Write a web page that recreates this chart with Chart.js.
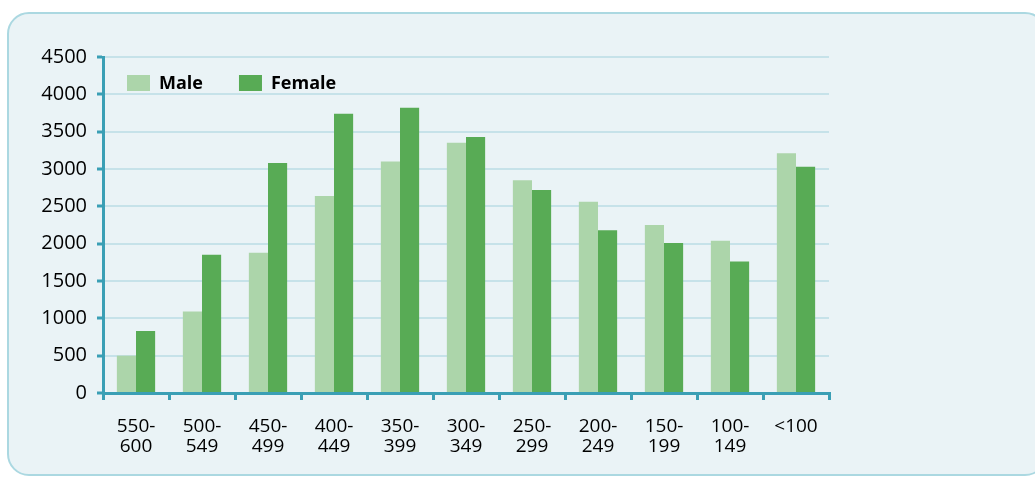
<!DOCTYPE html>
<html>
<head>
<meta charset="utf-8">
<script src="https://cdn.jsdelivr.net/npm/chart.js@4"></script>
<style>
  html, body { margin: 0; padding: 0; background: #ffffff; width: 1035px; height: 477px; overflow: hidden; }
  #card { position: absolute; left: 7px; top: 12px; width: 1040px; height: 464px; background: #eaf3f6; border: 2px solid #abd8e1; border-radius: 22px; box-sizing: border-box; }
  #wrap { position: absolute; left: 0; top: 0; width: 1035px; height: 477px; }
</style>
</head>
<body>
<div id="card"></div>
<div id="wrap"><canvas id="c" width="1035" height="477"></canvas></div>
<script>
const categories = [["550-","600"],["500-","549"],["450-","499"],["400-","449"],["350-","399"],["300-","349"],["250-","299"],["200-","249"],["150-","199"],["100-","149"],["<100"]];
const seriesNames = ["Male", "Female"];
const maleValues = [500, 1090, 1880, 2640, 3100, 3350, 2850, 2560, 2250, 2040, 3210];
const femaleValues = [830, 1850, 3080, 3740, 3820, 3430, 2720, 2180, 2010, 1760, 3030];
const yTicks = [0, 500, 1000, 1500, 2000, 2500, 3000, 3500, 4000, 4500];

const TEAL = '#3a9fb5';
const FONT = '"Open Sans", "Noto Sans", sans-serif';

const insideLegend = {
  id: 'insideLegend',
  afterDraw(chart) {
    const ctx = chart.ctx;
    const area = chart.chartArea;
    let x = area.left + 24;
    const y = area.top + 18;
    ctx.save();
    ctx.font = 'bold 18px ' + FONT;
    ctx.textBaseline = 'middle';
    ctx.textAlign = 'left';
    chart.data.datasets.forEach((ds) => {
      ctx.fillStyle = ds.backgroundColor;
      ctx.fillRect(x, y, 23, 16);
      x += 23 + 9;
      ctx.fillStyle = '#000000';
      ctx.fillText(ds.label, x, y + 8.5);
      x += ctx.measureText(ds.label).width + 36;
    });
    ctx.restore();
  }
};

new Chart(document.getElementById('c'), {
  type: 'bar',
  data: {
    labels: categories,
    datasets: [
      { label: seriesNames[0], data: maleValues, backgroundColor: '#acd5aa', borderWidth: 0, barPercentage: 1, categoryPercentage: 0.58 },
      { label: seriesNames[1], data: femaleValues, backgroundColor: '#58ab55', borderWidth: 0, barPercentage: 1, categoryPercentage: 0.58 }
    ]
  },
  options: {
    responsive: false,
    animation: false,
    devicePixelRatio: 1,
    layout: { padding: { left: 0, top: 57, right: 206, bottom: 24 } },
    plugins: { legend: { display: false }, tooltip: { enabled: false } },
    scales: {
      x: {
        afterFit(scale) { scale.height = 60; },
        grid: { display: true, drawOnChartArea: false, drawTicks: true, tickLength: 7, tickColor: TEAL, tickWidth: 3, offset: true, lineWidth: 3, color: TEAL },
        border: { display: true, color: TEAL, width: 3 },
        ticks: { color: '#000000', font: { family: FONT, size: 19, lineHeight: 1.05 }, padding: 17, maxRotation: 0, autoSkip: false }
      },
      y: {
        min: 0, max: 4500,
        afterFit(scale) { scale.width = 103; },
        afterBuildTicks(scale) { scale.ticks = yTicks.map(v => ({ value: v })); },
        grid: { color: '#c6e2e9', lineWidth: 2, drawTicks: true, tickLength: 6, tickColor: TEAL, tickWidth: 3 },
        border: { display: true, color: TEAL, width: 3 },
        ticks: { color: '#000000', font: { family: FONT, size: 20 }, padding: 10, callback: (v) => String(v) }
      }
    }
  },
  plugins: [insideLegend]
});
</script>
</body>
</html>
